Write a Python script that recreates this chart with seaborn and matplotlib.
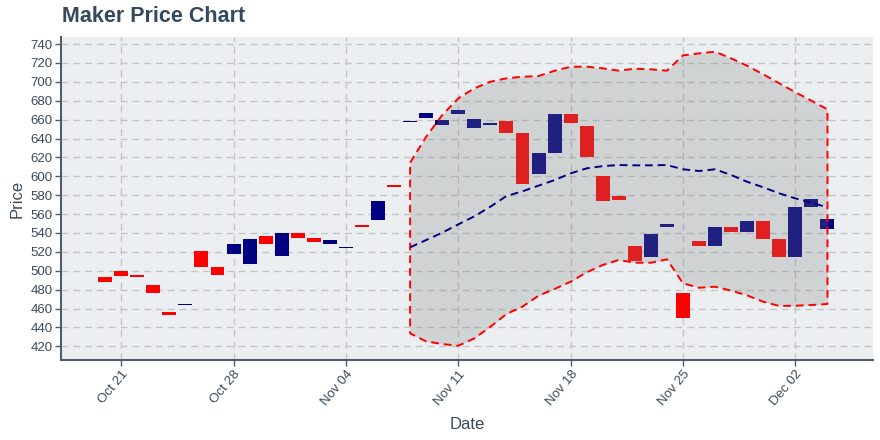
import matplotlib
matplotlib.use("Agg")
import matplotlib.pyplot as plt
import matplotlib.dates as mdates
import seaborn as sns
import pandas as pd

# ---- data ----
dates = pd.date_range("2019-10-20", "2019-12-04", freq="D")
opens = [493.4, 499.7, 495.5, 484.9, 456.3, 463.7, 520.9, 504.0, 517.7, 507.1,
         536.8, 515.6, 540.3, 534.7, 528.3, 524.0, 548.4, 553.7, 590.7, 657.8,
         661.7, 654.3, 666.0, 651.1, 654.3, 658.5, 645.8, 602.4, 624.6, 666.0,
         653.2, 600.3, 579.1, 526.2, 514.5, 546.3, 476.4, 531.5, 526.2, 546.3,
         541.0, 552.6, 533.6, 514.5, 567.5, 544.2]
closes = [488.1, 494.4, 493.4, 476.4, 453.1, 464.8, 504.0, 495.5, 528.3, 533.6,
          528.3, 540.3, 534.7, 530.4, 532.5, 525.0, 546.3, 573.8, 589.0, 658.5,
          667.0, 659.6, 670.0, 660.6, 656.4, 645.8, 591.8, 624.6, 666.0, 656.4,
          620.4, 573.8, 574.9, 510.3, 538.9, 549.5, 449.9, 526.2, 546.3, 541.0,
          552.6, 533.6, 514.5, 567.5, 575.9, 554.8]

band_dates = pd.date_range("2019-11-08", "2019-12-04", freq="D")
upper = [614.4, 641.9, 664.8, 682.5, 693.1, 700.1, 703.7, 705.4, 706.1, 711.7,
         716.0, 716.0, 714.3, 711.8, 713.9, 713.2, 711.8, 728.0, 730.1, 731.9,
         724.8, 717.0, 707.9, 698.4, 688.9, 680.0, 670.8]
middle = [524.8, 532.5, 540.3, 549.1, 557.6, 567.8, 579.1, 584.1, 590.1, 596.0,
          603.1, 608.4, 610.8, 611.9, 611.6, 611.6, 611.9, 607.4, 605.6, 607.4,
          601.3, 594.2, 588.3, 581.9, 576.6, 572.0, 567.1]
lower = [433.7, 425.2, 422.4, 420.6, 428.4, 440.7, 454.2, 462.0, 473.6, 480.7,
         488.4, 498.3, 506.1, 511.4, 508.5, 508.5, 512.1, 486.7, 482.0, 483.1,
         478.9, 473.9, 467.2, 462.7, 463.0, 463.7, 464.8]

y_ticks = list(range(420, 741, 20))
x_ticks = ["2019-10-21", "2019-10-28", "2019-11-04", "2019-11-11",
           "2019-11-18", "2019-11-25", "2019-12-02"]

# ---- style ----
sns.set_theme(style="whitegrid")
text_col = "#3a4a5c"
plt.rcParams["font.family"] = ["Liberation Sans", "DejaVu Sans"]

fig = plt.figure(figsize=(8.8, 4.4), dpi=100)
ax = fig.add_axes([0.0693, 0.1818, 0.9227, 0.7342])
ax.set_facecolor("#eceff1")

df = pd.DataFrame({"date": dates, "open": opens, "close": closes})
df["up"] = df["close"] >= df["open"]
df["low"] = df[["open", "close"]].min(axis=1)
df["height"] = (df["close"] - df["open"]).abs().clip(lower=1.2)
colors = ["#000080" if u else "#ff0000" for u in df["up"]]
ax.bar(df["date"], df["height"], bottom=df["low"], width=0.87,
       color=colors, zorder=2, linewidth=0)

bd = pd.DataFrame({"date": band_dates, "upper": upper, "middle": middle, "lower": lower})
ax.fill_between(bd["date"], bd["lower"], bd["upper"], color="#808080",
                alpha=0.25, linewidth=0, zorder=3)
outline_x = list(bd["date"]) + list(bd["date"][::-1]) + [bd["date"].iloc[0]]
outline_y = list(bd["upper"]) + list(bd["lower"][::-1]) + [bd["upper"].iloc[0]]
ax.plot(outline_x, outline_y, color="#ff0000", linestyle=(0, (4, 2.5)),
        linewidth=1.4, zorder=4)
sns.lineplot(data=bd, x="date", y="middle", ax=ax, color="#000080",
             linestyle=(0, (4, 2.5)), linewidth=1.4, zorder=4)

# ---- axes ----
ax.set_xlim(pd.Timestamp("2019-10-17 06:00"), pd.Timestamp("2019-12-06 20:00"))
ax.set_ylim(405.5, 747.5)
ax.set_yticks(y_ticks)
ax.set_xticks(pd.to_datetime(x_ticks))
ax.xaxis.set_major_formatter(mdates.DateFormatter("%b %d"))
ax.grid(True, color="#c4c4c4", linestyle=(0, (5, 3.5)), linewidth=1.0, zorder=0)
ax.set_axisbelow(True)
for s in ["top", "right"]:
    ax.spines[s].set_visible(False)
for s in ["left", "bottom"]:
    ax.spines[s].set_visible(True)
    ax.spines[s].set_color("#4d5d6e")
    ax.spines[s].set_linewidth(1.5)
ax.tick_params(axis="both", which="major", length=4, width=1, color="#4d5d6e",
               labelcolor=text_col, labelsize=9.5, left=True, bottom=True, pad=2)
plt.setp(ax.get_xticklabels(), rotation=50, ha="right", rotation_mode="anchor")
ax.set_xlabel("Date", fontsize=12, color=text_col, labelpad=6)
ax.set_ylabel("Price", fontsize=12, color=text_col, labelpad=4)
fig.text(0.070, 0.962, "Maker Price Chart", fontsize=15.5, fontweight="bold",
         color="#34495e", ha="left", va="center")

fig.savefig("out.png", dpi=100, facecolor="white")
